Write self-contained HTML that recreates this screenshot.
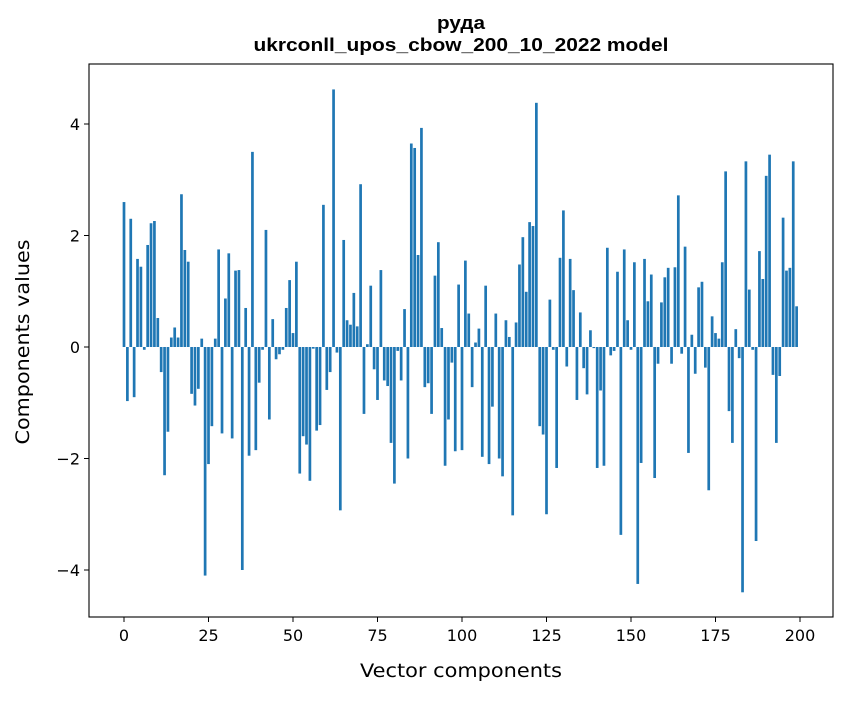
<!DOCTYPE html>
<html><head><meta charset="utf-8"><style>
body{margin:0;background:#fff;}
svg text{font-family:"DejaVu Sans","Liberation Sans",sans-serif;fill:#000;}
</style></head><body>
<svg id="chart" width="847" height="696" xmlns="http://www.w3.org/2000/svg">
<rect width="847" height="696" fill="#fff"/>
<text x="461" y="29" text-anchor="middle" textLength="48" lengthAdjust="spacingAndGlyphs" style="font-family:'Liberation Sans',sans-serif;font-weight:bold;font-size:18px">руда</text>
<text x="461" y="51" text-anchor="middle" textLength="415" lengthAdjust="spacingAndGlyphs" style="font-family:'Liberation Sans',sans-serif;font-weight:bold;font-size:18px">ukrconll_upos_cbow_200_10_2022 model</text>
<g id="bars"></g>
<g id="xticks"></g>
<g id="yticks"></g>
<rect x="89" y="64" width="744" height="553" fill="none" stroke="#000" stroke-width="1.1"/>
<text x="461" y="677" text-anchor="middle" font-size="19" textLength="202" lengthAdjust="spacingAndGlyphs">Vector components</text>
<text transform="translate(29,342) rotate(-90)" text-anchor="middle" font-size="19" textLength="205" lengthAdjust="spacingAndGlyphs">Components values</text>
</svg>
<script>
const values=[2.6,-0.97,2.3,-0.9,1.58,1.44,-0.05,1.83,2.22,2.26,0.52,-0.45,-2.3,-1.52,0.17,0.35,0.17,2.74,1.74,1.53,
-0.84,-1.05,-0.75,0.15,-4.1,-2.1,-1.42,0.15,1.75,-1.55,0.87,1.68,-1.64,1.37,1.38,-4.0,0.7,-1.95,3.5,-1.85,
-0.64,-0.05,2.1,-1.3,0.5,-0.22,-0.13,-0.05,0.7,1.2,0.25,1.53,-2.27,-1.6,-1.75,-2.4,-0.03,-1.5,-1.4,2.55,
-0.77,-0.45,4.62,-0.1,-2.93,1.92,0.48,0.4,0.97,0.37,2.92,-1.2,0.05,1.1,-0.4,-0.95,1.38,-0.6,-0.7,-1.72,
-2.45,-0.07,-0.6,0.68,-2.0,3.65,3.57,1.65,3.93,-0.72,-0.65,-1.2,1.28,1.88,0.34,-2.13,-1.3,-0.28,-1.87,1.12,
-1.85,1.55,0.6,-0.72,0.08,0.33,-1.97,1.1,-2.1,-1.07,0.6,-2.0,-2.32,0.48,0.18,-3.02,0.44,1.48,1.97,0.99,
2.24,2.17,4.38,-1.42,-1.57,-3.0,0.85,-0.05,-2.17,1.6,2.45,-0.35,1.58,1.02,-0.95,0.62,-0.38,-0.85,0.3,-0.02,
-2.17,-0.78,-2.13,1.78,-0.15,-0.07,1.35,-3.37,1.75,0.48,-0.05,1.52,-4.25,-2.08,1.58,0.82,1.3,-2.35,-0.3,0.8,
1.25,1.42,-0.3,1.43,2.72,-0.12,1.8,-1.9,0.22,-0.48,1.07,1.17,-0.37,-2.57,0.55,0.25,0.15,1.52,3.15,-1.15,
-1.72,0.32,-0.2,-4.4,3.33,1.03,-0.05,-3.48,1.72,1.22,3.07,3.45,-0.5,-1.72,-0.52,2.32,1.37,1.42,3.33,0.73];
const xTicks=[0,25,50,75,100,125,150,175,200];
const yTicks=[-4,-2,0,2,4];
const NS="http://www.w3.org/2000/svg";
const xScale=v=>124+v*3.38;
const yScale=v=>347-v*55.75;
const bars=document.getElementById('bars');
values.forEach((v,i)=>{
  const r=document.createElementNS(NS,'rect');
  
  
  const y0=yScale(0),y1=yScale(v);
  r.setAttribute('x',xScale(i)-0.4*3.38);
  r.setAttribute('width',0.8*3.38);
  r.setAttribute('y',Math.min(y0,y1));
  r.setAttribute('height',Math.abs(y1-y0));
  r.setAttribute('fill','#1f77b4');
  bars.appendChild(r);
});
const xg=document.getElementById('xticks');
xTicks.forEach(t=>{
  const x=xScale(t);
  const l=document.createElementNS(NS,'line');
  
  
  l.setAttribute('x1',x);l.setAttribute('x2',x);l.setAttribute('y1',617);l.setAttribute('y2',622);
  l.setAttribute('stroke','#000');
  xg.appendChild(l);
  const tx=document.createElementNS(NS,'text');
  
  
  tx.setAttribute('x',x);tx.setAttribute('y',641);tx.setAttribute('text-anchor','middle');tx.setAttribute('font-size','16');
  tx.textContent=t;
  xg.appendChild(tx);
});
const yg=document.getElementById('yticks');
yTicks.forEach(t=>{
  const y=yScale(t);
  const l=document.createElementNS(NS,'line');
  
  
  l.setAttribute('x1',84);l.setAttribute('x2',89);l.setAttribute('y1',y);l.setAttribute('y2',y);
  l.setAttribute('stroke','#000');
  yg.appendChild(l);
  const tx=document.createElementNS(NS,'text');
  
  
  tx.setAttribute('x',80);tx.setAttribute('y',y+6);tx.setAttribute('text-anchor','end');tx.setAttribute('font-size','16');
  tx.textContent=t<0?'\u2212'+Math.abs(t):String(t);
  yg.appendChild(tx);
});
</script>
</body></html>
